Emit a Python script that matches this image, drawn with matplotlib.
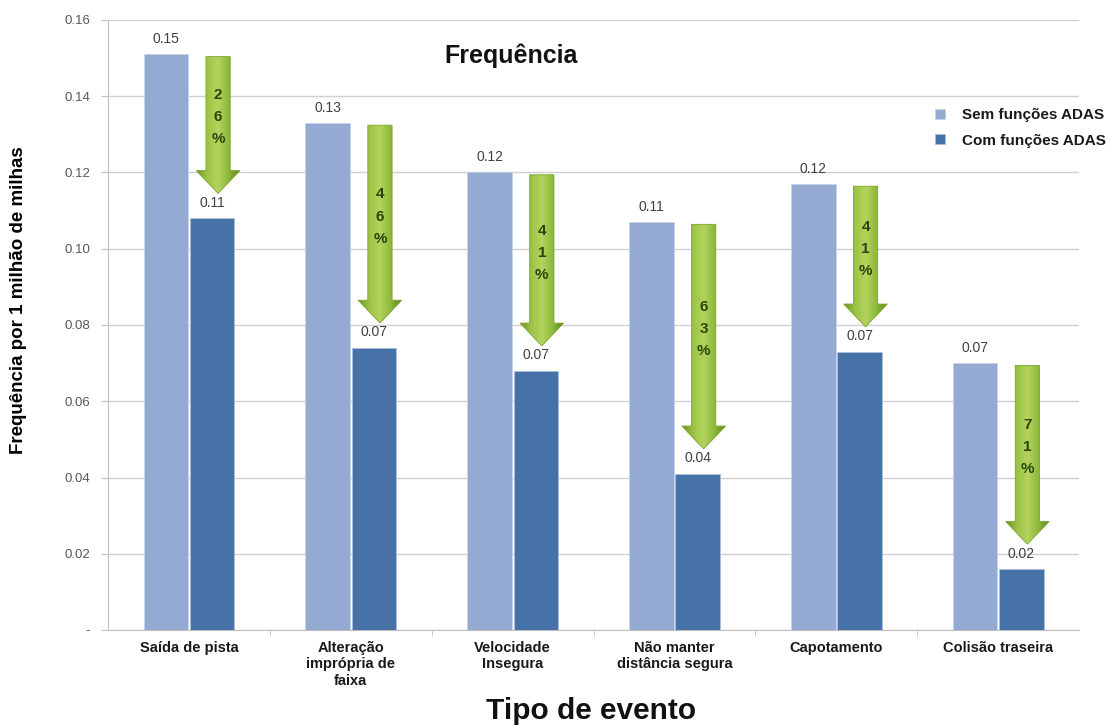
import numpy as np
import matplotlib
matplotlib.use("Agg")
import matplotlib.pyplot as plt
from matplotlib.patches import Polygon
from matplotlib.colors import LinearSegmentedColormap
from matplotlib.ticker import FuncFormatter

categories = ["Saída de pista", "Alteração\nimprópria de\nfaixa", "Velocidade\nInsegura",
              "Não manter\ndistância segura", "Capotamento", "Colisão traseira"]
sem_adas = [0.151, 0.133, 0.120, 0.107, 0.117, 0.070]
com_adas = [0.108, 0.074, 0.068, 0.041, 0.073, 0.016]
reducao = [26, 46, 41, 63, 41, 71]

plt.rcParams["font.family"] = ["Liberation Sans", "DejaVu Sans"]

LIGHT = "#95AAD3"
DARK = "#4672A8"

fig = plt.figure(figsize=(11.08, 7.26), dpi=100)
ax = fig.add_axes([0.0975, 0.1322, 0.8765, 0.8403])

x = np.arange(len(categories))
w = 0.275
off = 0.143
b1 = ax.bar(x - off, sem_adas, w, color=LIGHT, edgecolor="#c5d3ec", linewidth=0.6,
            label="Sem funções ADAS", zorder=3)
b2 = ax.bar(x + off, com_adas, w, color=DARK, edgecolor="#a9bedd", linewidth=0.6,
            label="Com funções ADAS", zorder=3)

for xi, v in zip(x - off, sem_adas):
    ax.text(xi, v + 0.0022, f"{v:.2f}", ha="center", va="bottom", fontsize=10, color="#404040", zorder=5)
for xi, v in zip(x + off, com_adas):
    ax.text(xi, v + 0.0022, f"{v:.2f}", ha="center", va="bottom", fontsize=10, color="#404040", zorder=5)

# green arrows showing the reduction, shaded with a horizontal gradient
green = LinearSegmentedColormap.from_list(
    "green", ["#6b9422", "#9cc444", "#b3d35e", "#8cb83a", "#5d8418"])
shaft_w = 0.15
head_w = 0.27
head_len = 0.006
for xi, top, low, pct in zip(x, sem_adas, com_adas, reducao):
    cx = xi + 0.18
    y0 = top - 0.0006
    tip = low + 0.0065
    hs = tip + head_len
    pts = [(cx - shaft_w / 2, y0), (cx + shaft_w / 2, y0), (cx + shaft_w / 2, hs),
           (cx + head_w / 2, hs), (cx, tip), (cx - head_w / 2, hs), (cx - shaft_w / 2, hs)]
    poly = Polygon(pts, closed=True, facecolor="none", edgecolor="#7ea632", linewidth=0.6, zorder=6)
    ax.add_patch(poly)
    grad = np.linspace(0, 1, 64).reshape(1, -1)
    im = ax.imshow(grad, cmap=green, aspect="auto", zorder=5,
                   extent=(cx - head_w / 2, cx + head_w / 2, tip, y0))
    im.set_clip_path(poly)
    ymid = (y0 + hs) / 2 - 0.001
    digits = list(str(pct)) + ["%"]
    step = 0.0058
    for k, ch in enumerate(digits):
        ax.text(cx, ymid + step * (1 - k), ch, ha="center", va="center", fontsize=11,
                fontweight="bold", color="#2a460a", zorder=7)

ax.set_xlim(-0.5, len(categories) - 0.5)
ax.set_ylim(0, 0.16)
ax.set_yticks(np.arange(0, 0.161, 0.02))
ax.yaxis.set_major_formatter(FuncFormatter(lambda v, _: "-" if abs(v) < 1e-9 else f"{v:.2f}"))
ax.tick_params(axis="y", labelsize=9.5, labelcolor="#595959", color="#bfbfbf", length=5, pad=8)
ax.set_xticks(x)
ax.set_xticklabels(categories, fontsize=10.5, fontweight="bold", color="#1a1a1a")
ax.set_xticks(np.arange(0.5, len(categories) - 0.5), minor=True)
ax.tick_params(axis="x", which="major", length=0, pad=8)
ax.tick_params(axis="x", which="minor", length=4, color="#bfbfbf")
ax.grid(axis="y", color="#d0d0d0", linewidth=1, zorder=0)
ax.set_axisbelow(True)
for s in ["top", "right"]:
    ax.spines[s].set_visible(False)
ax.spines["left"].set_color("#bfbfbf")
ax.spines["bottom"].set_color("#bfbfbf")

ax.set_ylabel("Frequência por 1 milhão de milhas", fontsize=13.5, fontweight="bold")
ax.yaxis.set_label_coords(-0.0834, 0.54)
fig.text(0.533, 0.02, "Tipo de evento", ha="center", va="center",
         fontsize=21.5, fontweight="bold", color="#111111")
ax.text(0.415, 0.941, "Frequência", transform=ax.transAxes, ha="center", va="center",
        fontsize=18, fontweight="bold", color="#111111")

leg = fig.legend(handles=[b1, b2], loc="upper left", bbox_to_anchor=(0.829, 0.874),
                 frameon=True, fontsize=11, handlelength=0.65, handleheight=0.65,
                 handletextpad=1.1, labelspacing=0.75, borderpad=0.6, fancybox=False)
leg.get_frame().set_facecolor("white")
leg.get_frame().set_edgecolor("white")
for t in leg.get_texts():
    t.set_color("#1a1a1a")
    t.set_fontweight("bold")

fig.savefig("out.png", dpi=100, facecolor="white")
